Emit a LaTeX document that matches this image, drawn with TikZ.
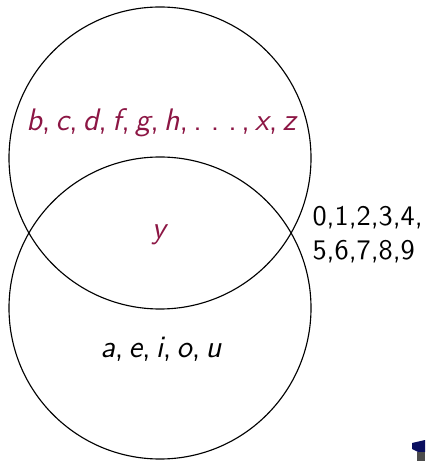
\documentclass[tikz,border=0pt]{standalone}
\usepackage{amsmath}
\usepackage{amssymb}
\usepackage{tikz}
\definecolor{setpurple}{RGB}{140,22,68}
\definecolor{logonavy}{RGB}{10,15,95}
\newcommand{\sv}[1]{\textit{#1}}
\newcommand{\sdots}{.\kern3.2pt.\kern3.2pt.\kern1.6pt}

\begin{document}
\begin{tikzpicture}[x=0.3533pt, y=-0.3533pt, font=\sffamily]
            \useasboundingbox (0,0) rectangle (425,461);
            \node[circle, draw, minimum size=302*0.3533pt, inner sep=0pt] (upper) at (160,158) {};
            \node[circle, draw, minimum size=302*0.3533pt, inner sep=0pt] (lower) at (160,308) {};
            \node[text=setpurple, font=\sffamily\fontsize{11}{13}\selectfont] (cons) at (162,123) {\sv{b},\,\sv{c},\,\sv{d},\,\sv{f},\,\sv{g},\,\sv{h},\,\sdots,\,\sv{x},\,\sv{z}};
            \node[text=setpurple, font=\sffamily\fontsize{11}{13}\selectfont] (both) at (160,235) {\sv{y}};
            \node[font=\sffamily\fontsize{11}{13}\selectfont] (vow) at (161,349) {\sv{a},\,\sv{e},\,\sv{i},\,\sv{o},\,\sv{u}};
            \node[anchor=west, align=left, inner sep=0pt] (digits) at (312,235) {0,1,2,3,4,\\5,6,7,8,9};
            % corner logo, cut off by the frame
            \fill[logonavy] (412,443) -- (425,440) -- (425,452) -- (418,452) -- (412,449) -- cycle;
            \fill[black!70] (417,452) rectangle (425,461);
        \end{tikzpicture}
\end{document}
